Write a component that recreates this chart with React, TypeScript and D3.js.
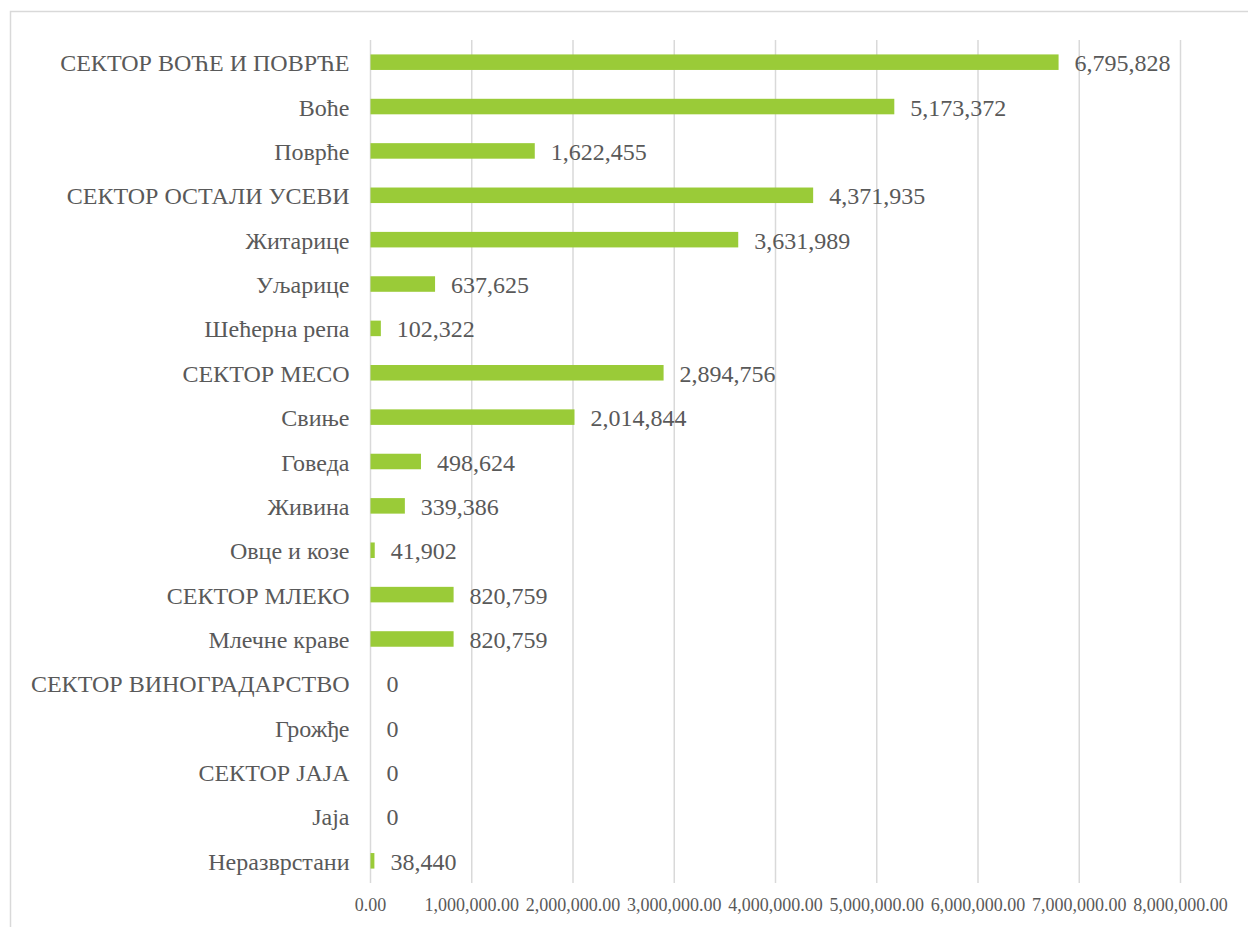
import React from "react";
import * as d3 from "d3";

const categories: string[] = [
  "СЕКТОР ВОЋЕ И ПОВРЋЕ",
  "Воће",
  "Поврће",
  "СЕКТОР ОСТАЛИ УСЕВИ",
  "Житарице",
  "Уљарице",
  "Шећерна репа",
  "СЕКТОР МЕСО",
  "Свиње",
  "Говеда",
  "Живина",
  "Овце и козе",
  "СЕКТОР МЛЕКО",
  "Млечне краве",
  "СЕКТОР ВИНОГРАДАРСТВО",
  "Грожђе",
  "СЕКТОР ЈАЈА",
  "Јаја",
  "Неразврстани",
];

const values: number[] = [
  6795828, 5173372, 1622455, 4371935, 3631989, 637625, 102322, 2894756,
  2014844, 498624, 339386, 41902, 820759, 820759, 0, 0, 0, 0, 38440,
];

const xTicks: number[] = [0, 1000000, 2000000, 3000000, 4000000, 5000000, 6000000, 7000000, 8000000];

const W = 1248;
const H = 927;
const M = { left: 370.5, right: 1180.5, top: 40, bottom: 883 };

export default function App() {
  const x = d3.scaleLinear().domain([0, 8000000]).range([M.left, M.right]);
  const y = d3
    .scaleBand<string>()
    .domain(categories)
    .range([M.top, M.bottom])
    .paddingInner(0.65)
    .paddingOuter(0.325);
  const band = d3.scaleBand<string>().domain(categories).range([M.top, M.bottom]);
  const fmtLabel = d3.format(",");
  const fmtTick = d3.format(",.2f");
  const font = "'Liberation Serif', 'Times New Roman', serif";
  const grey = "#595959";
  const gridColor = "#d9d9d9";

  return (
    <svg
      width={W}
      height={H}
      style={{ position: "absolute", left: 0, top: 0, background: "#fff" }}
      fontFamily={font}
    >
      <rect x={0} y={0} width={W} height={H} fill="#fff" />
      <rect
        x={10.5}
        y={11.5}
        width={W + 20}
        height={H + 20}
        fill="none"
        stroke={gridColor}
        strokeWidth={1.5}
      />
      {xTicks.map((t) => (
        <line
          key={"g" + t}
          x1={x(t)}
          x2={x(t)}
          y1={M.top}
          y2={M.bottom}
          stroke={gridColor}
          strokeWidth={1.5}
        />
      ))}
      {categories.map((c, i) => {
        const yc = (band(c) as number) + band.bandwidth() / 2;
        return (
          <g key={c}>
            <rect
              x={x(0)}
              y={y(c) as number}
              width={Math.max(0, x(values[i]) - x(0))}
              height={y.bandwidth()}
              fill="#9ACB38"
            />
            <text
              x={M.left - 21}
              y={yc + 9}
              textAnchor="end"
              fontSize={24}
              fill={grey}
            >
              {c}
            </text>
            <text x={x(values[i]) + 16} y={yc + 9} fontSize={24} fill={grey}>
              {fmtLabel(values[i])}
            </text>
          </g>
        );
      })}
      {xTicks.map((t) => (
        <text
          key={"t" + t}
          x={x(t)}
          y={911}
          textAnchor="middle"
          fontSize={18}
          fill={grey}
        >
          {fmtTick(t)}
        </text>
      ))}
    </svg>
  );
}
